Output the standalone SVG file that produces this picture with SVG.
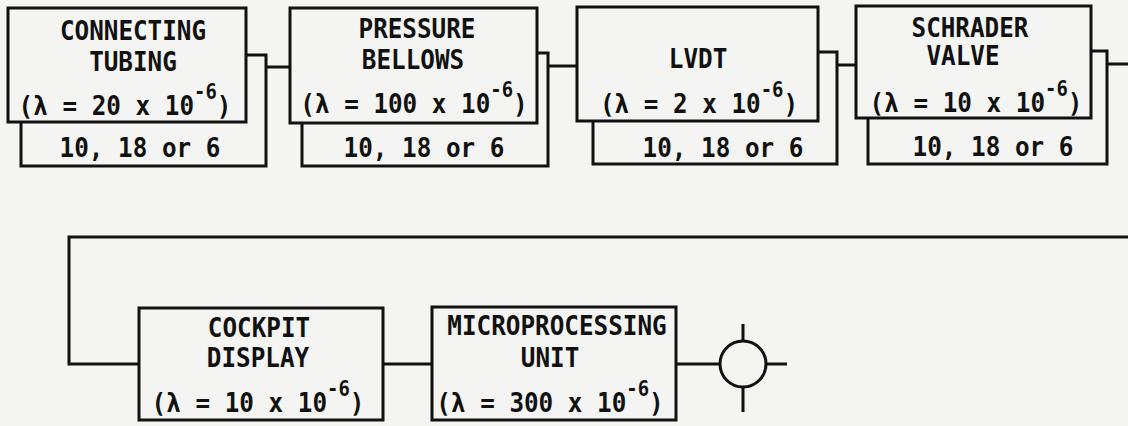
<svg xmlns="http://www.w3.org/2000/svg" width="1128" height="426" viewBox="0 0 1128 426">
<style>
.bx{fill:#f4f4f2;stroke:#111;stroke-width:3}
.ln{fill:none;stroke:#111;stroke-width:3}
text{font-family:"DejaVu Sans Mono","Liberation Mono",monospace;font-weight:bold;font-size:27px;fill:#111;text-anchor:middle}
.sup{font-size:21px}
</style>
<rect width="1128" height="426" fill="#f4f4f2"/>
<g id="connectors">
<path class="ln" d="M266 67H290"/>
<path class="ln" d="M548 66H577"/>
<path class="ln" d="M837 65H856"/>
<path class="ln" d="M1107 64H1128"/>
<path class="ln" d="M1128 237H69V364H139"/>
<path class="ln" d="M383 364H432"/>
<path class="ln" d="M676 364H720"/>
</g>
<g id="node-connecting-tubing">
<rect class="bx" x="21" y="55" width="245" height="111"/>
<rect class="bx" x="8" y="8" width="238" height="114"/>
<text transform="matrix(0.9 0 0 1 133 40)">CONNECTING</text>
<text transform="matrix(0.9 0 0 1 133 71)">TUBING</text>
<text transform="matrix(0.9 0 0 1 125 115)">(λ = 20 x 10<tspan class="sup" dy="-16">-6</tspan><tspan dy="16">)</tspan></text>
<text transform="matrix(0.9 0 0 1 140 157)">10, 18 or 6</text>
</g>
<g id="node-pressure-bellows">
<rect class="bx" x="302" y="53" width="246" height="113"/>
<rect class="bx" x="290" y="8" width="247" height="115"/>
<text transform="matrix(0.9 0 0 1 417 38)">PRESSURE</text>
<text transform="matrix(0.9 0 0 1 413 69)">BELLOWS</text>
<text transform="matrix(0.9 0 0 1 414 113)">(λ = 100 x 10<tspan class="sup" dy="-16">-6</tspan><tspan dy="16">)</tspan></text>
<text transform="matrix(0.9 0 0 1 424 157)">10, 18 or 6</text>
</g>
<g id="node-lvdt">
<rect class="bx" x="593" y="52" width="244" height="112"/>
<rect class="bx" x="577" y="7" width="241" height="114"/>
<text transform="matrix(0.9 0 0 1 698 68)">LVDT</text>
<text transform="matrix(0.9 0 0 1 699 113)">(λ = 2 x 10<tspan class="sup" dy="-16">-6</tspan><tspan dy="16">)</tspan></text>
<text transform="matrix(0.9 0 0 1 723 157)">10, 18 or 6</text>
</g>
<g id="node-schrader-valve">
<rect class="bx" x="868" y="51" width="239" height="113"/>
<rect class="bx" x="856" y="6" width="235" height="112"/>
<text transform="matrix(0.9 0 0 1 970 37)">SCHRADER</text>
<text transform="matrix(0.9 0 0 1 963 65)">VALVE</text>
<text transform="matrix(0.9 0 0 1 976 112)">(λ = 10 x 10<tspan class="sup" dy="-16">-6</tspan><tspan dy="16">)</tspan></text>
<text transform="matrix(0.9 0 0 1 993 156)">10, 18 or 6</text>
</g>
<g id="node-cockpit-display">
<rect class="bx" x="139" y="308" width="244" height="112"/>
<text transform="matrix(0.9 0 0 1 259 337)">COCKPIT</text>
<text transform="matrix(0.9 0 0 1 258 367)">DISPLAY</text>
<text transform="matrix(0.9 0 0 1 258 412)">(λ = 10 x 10<tspan class="sup" dy="-16">-6</tspan><tspan dy="16">)</tspan></text>
</g>
<g id="node-microprocessing-unit">
<rect class="bx" x="432" y="307" width="244" height="113"/>
<text transform="matrix(0.9 0 0 1 557 335)">MICROPROCESSING</text>
<text transform="matrix(0.9 0 0 1 550 367)">UNIT</text>
<text transform="matrix(0.9 0 0 1 550 412)">(λ = 300 x 10<tspan class="sup" dy="-16">-6</tspan><tspan dy="16">)</tspan></text>
</g>
<g id="node-terminal">
<circle class="ln" cx="743" cy="364" r="23"/>
<path class="ln" d="M743 324V341M743 387V412M766 364H787"/>
</g>
</svg>
